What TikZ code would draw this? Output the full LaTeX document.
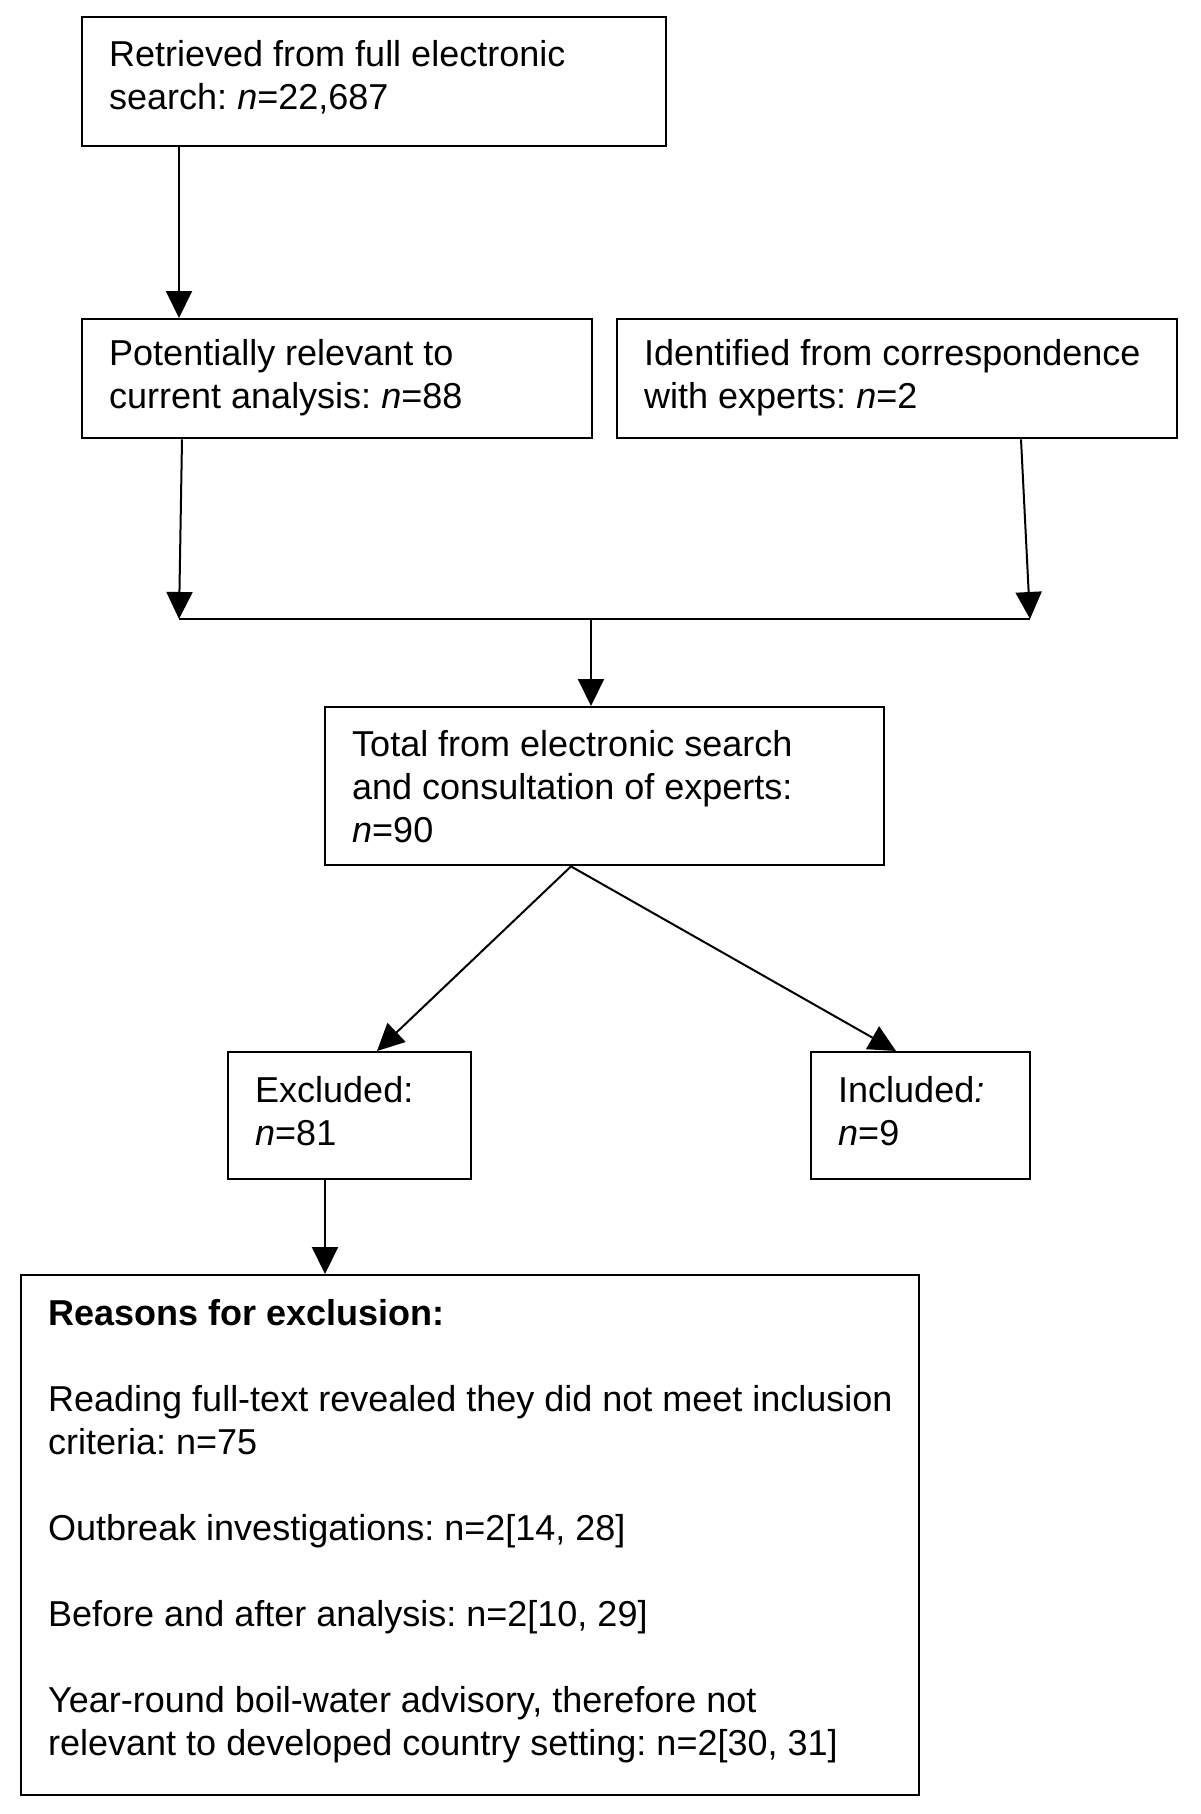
\documentclass[tikz,border=0pt]{standalone}
\usepackage{fontspec}
\setmainfont{Liberation Sans}
\usetikzlibrary{arrows.meta,calc}
\frenchspacing
\newcommand\bxt[2]{\makebox[#1][l]{\begin{tabular}{@{}l@{}}#2\end{tabular}}}
\begin{document}
\begin{tikzpicture}[x=0.5pt,y=-0.5pt,
  box/.style={draw, line width=1.2pt, anchor=north west, inner xsep=13.5pt, inner ysep=0pt,
    font=\fontsize{18}{21.5}\selectfont\frenchspacing},
  conn/.style={line width=1pt},
  arr/.style={conn, -{Triangle[length=13.5pt,width=13pt]}}]
\fill[white] (0,0) rectangle (1200,1814);
\useasboundingbox (0,0) rectangle (1200,1814);

\node[box, minimum width=292pt, minimum height=64.5pt] (b1) at (81,16)
  {\raisebox{1pt}[\height][\depth]{\bxt{265pt}{Retrieved from full electronic\\search: \textit{n}=22,687}}};
\node[box, minimum width=255pt, minimum height=59.5pt] (b2) at (81,318)
  {\bxt{228pt}{Potentially relevant to\\current analysis: \textit{n}=88}};
\node[box, minimum width=280pt, minimum height=59.5pt] (b3) at (616,318)
  {\bxt{253pt}{Identified from correspondence\\with experts: \textit{n}=2}};
\node[box, minimum width=279.5pt, minimum height=79pt] (b4) at (324,706)
  {\raisebox{-2.5pt}[\height][\depth]{\bxt{252.5pt}{Total from electronic search\\and consultation of experts:\\\textit{n}=90}}};
\node[box, minimum width=121.5pt, minimum height=63.5pt] (b5) at (227,1051)
  {\bxt{94.5pt}{Excluded:\\\textit{n}=81}};
\node[box, minimum width=109.5pt, minimum height=63.5pt] (b6) at (810,1051)
  {\bxt{82.5pt}{Included\textit{:}\\\textit{n}=9}};
\node[box, inner ysep=10.25pt, minimum width=449pt, minimum height=260pt] (b7) at (20,1274)
  {\parbox[c][239.5pt][t]{422pt}{\bxt{422pt}{\textbf{Reasons for exclusion:}\\ \\
   Reading full-text revealed they did not meet inclusion\\ criteria: n=75\\ \\
   Outbreak investigations: n=2[14, 28]\\ \\
   Before and after analysis: n=2[10, 29]\\ \\
   Year-round boil-water advisory, therefore not\\ relevant to developed country setting: n=2[30, 31]}}};

\coordinate (jl) at (179,619);
\coordinate (jm) at (591,619);
\coordinate (jr) at (1030,619);

\draw[arr] ([xshift=49pt]b1.south west) -- ([xshift=49pt]b2.north west);
\draw[arr] ([xshift=50.5pt]b2.south west) -- (jl);
\draw[arr] ([xshift=202.5pt]b3.south west) -- (jr);
\draw[conn] (jl) -- (jr);
\draw[arr] (jm) -- ([xshift=133.5pt]b4.north west);
\draw[arr] ([xshift=123.5pt]b4.south west) -- ([xshift=75pt]b5.north west);
\draw[arr] ([xshift=123.5pt]b4.south west) -- ([xshift=43pt]b6.north west);
\draw[arr] ([xshift=49pt]b5.south west) -- ([xshift=152.5pt]b7.north west);
\end{tikzpicture}
\end{document}
